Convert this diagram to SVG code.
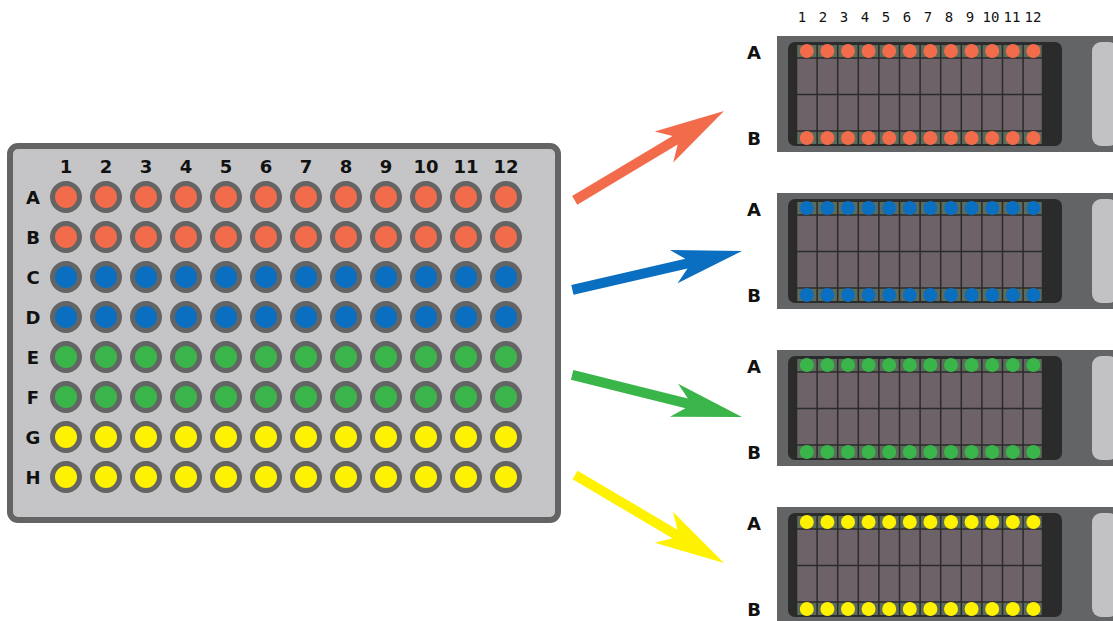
<svg xmlns="http://www.w3.org/2000/svg" xmlns:xlink="http://www.w3.org/1999/xlink" width="1113" height="621" viewBox="0 0 1113 621">
<style>
.lbl{font-family:"DejaVu Sans","Liberation Sans",sans-serif;font-weight:bold;font-size:18px;fill:#111;text-anchor:middle}
.clbl{font-family:"DejaVu Sans Mono","Liberation Mono",monospace;font-size:14px;fill:#111;text-anchor:middle}
.well{stroke:#646464;stroke-width:5}
.grid{stroke:#2b2b2b;stroke-width:1.5;fill:none}
.or{color:#f26b4b;fill:#f26b4b}
.bl{color:#0a6fc0;fill:#0a6fc0}
.gr{color:#39b54a;fill:#39b54a}
.ye{color:#fff200;fill:#fff200}
</style>
<defs>
<g id="wrow" fill="currentColor" class="well">
<circle cx="66" cy="0" r="13.5"/><circle cx="106" cy="0" r="13.5"/><circle cx="146" cy="0" r="13.5"/><circle cx="186" cy="0" r="13.5"/><circle cx="226" cy="0" r="13.5"/><circle cx="266" cy="0" r="13.5"/><circle cx="306" cy="0" r="13.5"/><circle cx="346" cy="0" r="13.5"/><circle cx="386" cy="0" r="13.5"/><circle cx="426" cy="0" r="13.5"/><circle cx="466" cy="0" r="13.5"/><circle cx="506" cy="0" r="13.5"/>
</g>
<g id="chip">
<rect x="0" y="0" width="340" height="116" fill="#636466"/>
<rect x="11" y="6" width="274" height="104" rx="7" fill="#2b2b2b"/>
<rect x="315" y="6" width="26" height="104" rx="9" fill="#c2c2c4"/>
<rect x="19" y="9" width="247" height="13" fill="#5c6b5c"/>
<rect x="19" y="22" width="247" height="73" fill="#6c6268"/>
<rect x="19" y="95" width="247" height="13" fill="#5c6b5c"/>
<path class="grid" d="M19.5,9V108M40.1,9V108M60.7,9V108M81.3,9V108M101.9,9V108M122.5,9V108M143.1,9V108M163.7,9V108M184.3,9V108M204.9,9V108M225.5,9V108M246.1,9V108M265.5,9V108M19,22H266M19,58.5H266M19,95H266"/>
<g fill="currentColor">
<circle cx="29.8" cy="15" r="7"/><circle cx="50.4" cy="15" r="7"/><circle cx="71" cy="15" r="7"/><circle cx="91.6" cy="15" r="7"/><circle cx="112.2" cy="15" r="7"/><circle cx="132.8" cy="15" r="7"/><circle cx="153.4" cy="15" r="7"/><circle cx="174" cy="15" r="7"/><circle cx="194.6" cy="15" r="7"/><circle cx="215.2" cy="15" r="7"/><circle cx="235.8" cy="15" r="7"/><circle cx="256.4" cy="15" r="7"/>
<circle cx="29.8" cy="102" r="7"/><circle cx="50.4" cy="102" r="7"/><circle cx="71" cy="102" r="7"/><circle cx="91.6" cy="102" r="7"/><circle cx="112.2" cy="102" r="7"/><circle cx="132.8" cy="102" r="7"/><circle cx="153.4" cy="102" r="7"/><circle cx="174" cy="102" r="7"/><circle cx="194.6" cy="102" r="7"/><circle cx="215.2" cy="102" r="7"/><circle cx="235.8" cy="102" r="7"/><circle cx="256.4" cy="102" r="7"/>
</g>
<text class="lbl" x="-23" y="23">A</text>
<text class="lbl" x="-23" y="109">B</text>
</g>
</defs>
<rect width="1113" height="621" fill="#ffffff"/>
<g id="plate">
<rect x="10" y="146" width="548" height="374" rx="8" fill="#c5c5c7" stroke="#646464" stroke-width="6"/>
<g class="lbl">
<text x="66" y="173">1</text><text x="106" y="173">2</text><text x="146" y="173">3</text><text x="186" y="173">4</text><text x="226" y="173">5</text><text x="266" y="173">6</text><text x="306" y="173">7</text><text x="346" y="173">8</text><text x="386" y="173">9</text><text x="426" y="173">10</text><text x="466" y="173">11</text><text x="506" y="173">12</text>
<text x="33" y="204">A</text><text x="33" y="244">B</text><text x="33" y="284">C</text><text x="33" y="324">D</text><text x="33" y="364">E</text><text x="33" y="404">F</text><text x="33" y="444">G</text><text x="33" y="484">H</text>
</g>
<use xlink:href="#wrow" href="#wrow" y="197" class="or"/>
<use xlink:href="#wrow" href="#wrow" y="237" class="or"/>
<use xlink:href="#wrow" href="#wrow" y="277" class="bl"/>
<use xlink:href="#wrow" href="#wrow" y="317" class="bl"/>
<use xlink:href="#wrow" href="#wrow" y="357" class="gr"/>
<use xlink:href="#wrow" href="#wrow" y="397" class="gr"/>
<use xlink:href="#wrow" href="#wrow" y="437" class="ye"/>
<use xlink:href="#wrow" href="#wrow" y="477" class="ye"/>
</g>
<g id="chip-columns" class="clbl">
<text x="802" y="22">1</text><text x="823" y="22">2</text><text x="844" y="22">3</text><text x="865" y="22">4</text><text x="886" y="22">5</text><text x="907" y="22">6</text><text x="928" y="22">7</text><text x="949" y="22">8</text><text x="970" y="22">9</text><text x="991" y="22">10</text><text x="1012" y="22">11</text><text x="1033" y="22">12</text>
</g>
<g id="chip1"><use xlink:href="#chip" href="#chip" x="777" y="36" class="or"/></g>
<g id="chip2"><use xlink:href="#chip" href="#chip" x="777" y="193" class="bl"/></g>
<g id="chip3"><use xlink:href="#chip" href="#chip" x="777" y="350" class="gr"/></g>
<g id="chip4"><use xlink:href="#chip" href="#chip" x="777" y="507" class="ye"/></g>
<g id="connectors">
<path class="or" transform="translate(724,111) rotate(-30.9)" d="M0,0L-70,-18L-57,-5L-174,-5L-174,5L-57,5L-70,18Z"/>
<path class="bl" transform="translate(742,251) rotate(-12.9)" d="M0,0L-70,-17L-57,-5L-174,-5L-174,5L-57,5L-70,17Z"/>
<path class="gr" transform="translate(742,417) rotate(13.9)" d="M0,0L-70,-17L-57,-5L-175,-5L-175,5L-57,5L-70,17Z"/>
<path class="ye" transform="translate(724,563) rotate(30.6)" d="M0,0L-70,-18L-57,-5L-173,-5L-173,5L-57,5L-70,18Z"/>
</g>
</svg>
